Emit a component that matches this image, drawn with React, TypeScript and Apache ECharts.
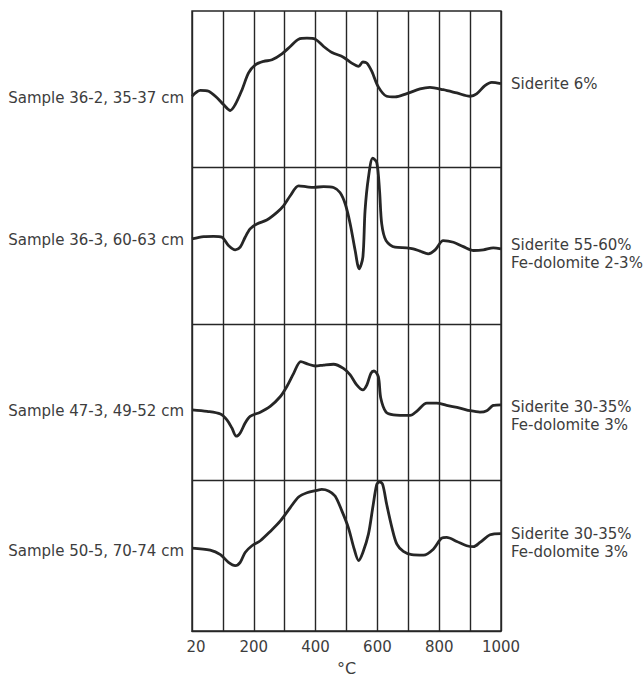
import React, { useEffect, useRef } from "react";
import * as echarts from "echarts";

// Sample names (top to bottom)
const sampleLabels = [
  "Sample 36-2, 35-37 cm",
  "Sample 36-3, 60-63 cm",
  "Sample 47-3, 49-52 cm",
  "Sample 50-5, 70-74 cm",
];

// Mineral notes (top to bottom)
const mineralLabels = [
  ["Siderite 6%"],
  ["Siderite 55-60%", "Fe-dolomite 2-3%"],
  ["Siderite 30-35%", "Fe-dolomite 3%"],
  ["Siderite 30-35%", "Fe-dolomite 3%"],
];

// X tick labels
const tickLabels: Record<number, string> = { 0: "20", 200: "200", 400: "400", 600: "600", 800: "800", 1000: "1000" };

// DTA curves: temperature (°C) and deflection (fraction of panel height above panel floor)
const temps362 = [0, 27, 54, 81, 102, 124, 140, 162, 183, 205, 232, 259, 291, 318, 345, 372, 399, 426, 453, 490, 517, 539, 553, 566, 582, 603, 630, 657, 695, 738, 770, 813, 857, 900, 921, 948, 970, 1000];
const vals362 = [0.455, 0.493, 0.487, 0.445, 0.402, 0.364, 0.402, 0.497, 0.604, 0.656, 0.678, 0.688, 0.726, 0.773, 0.82, 0.826, 0.82, 0.773, 0.735, 0.705, 0.667, 0.646, 0.674, 0.667, 0.614, 0.515, 0.455, 0.451, 0.472, 0.502, 0.512, 0.497, 0.476, 0.455, 0.47, 0.523, 0.544, 0.536];

const temps363 = [0, 38, 70, 97, 118, 140, 156, 172, 188, 210, 242, 275, 296, 318, 345, 372, 393, 426, 458, 479, 496, 512, 528, 541, 553, 560, 571, 585, 598, 607, 614, 628, 657, 695, 716, 738, 765, 787, 813, 846, 878, 911, 943, 975, 1000];
const vals363 = [0.543, 0.558, 0.56, 0.554, 0.501, 0.473, 0.49, 0.554, 0.607, 0.639, 0.664, 0.713, 0.755, 0.819, 0.882, 0.876, 0.872, 0.878, 0.872, 0.84, 0.766, 0.639, 0.469, 0.352, 0.427, 0.723, 0.936, 1.059, 1.031, 0.851, 0.639, 0.532, 0.49, 0.486, 0.48, 0.465, 0.448, 0.473, 0.532, 0.522, 0.494, 0.469, 0.473, 0.486, 0.48];

const temps473 = [0, 49, 92, 113, 129, 143, 156, 172, 188, 221, 253, 286, 307, 329, 352, 377, 399, 426, 458, 490, 512, 533, 553, 566, 579, 589, 603, 611, 628, 652, 706, 727, 760, 792, 824, 867, 900, 932, 954, 975, 1000];
const vals473 = [0.451, 0.441, 0.424, 0.387, 0.335, 0.282, 0.303, 0.366, 0.409, 0.436, 0.473, 0.536, 0.6, 0.684, 0.759, 0.742, 0.731, 0.737, 0.742, 0.716, 0.674, 0.61, 0.578, 0.61, 0.684, 0.699, 0.663, 0.525, 0.436, 0.419, 0.415, 0.441, 0.494, 0.494, 0.479, 0.462, 0.445, 0.436, 0.445, 0.479, 0.483];

const temps505 = [0, 59, 92, 118, 140, 156, 172, 194, 221, 253, 286, 318, 345, 372, 404, 420, 442, 463, 485, 506, 525, 539, 553, 571, 585, 598, 607, 617, 630, 647, 663, 684, 711, 749, 781, 808, 824, 857, 889, 911, 932, 965, 1000];
const vals505 = [0.567, 0.554, 0.525, 0.476, 0.455, 0.476, 0.539, 0.582, 0.614, 0.673, 0.741, 0.826, 0.894, 0.921, 0.936, 0.942, 0.932, 0.9, 0.805, 0.698, 0.56, 0.487, 0.539, 0.656, 0.826, 0.974, 0.991, 0.974, 0.847, 0.698, 0.592, 0.546, 0.525, 0.522, 0.56, 0.63, 0.635, 0.609, 0.582, 0.576, 0.603, 0.652, 0.66];

const curves = [
  { t: temps362, v: vals362 },
  { t: temps363, v: vals363 },
  { t: temps473, v: vals473 },
  { t: temps505, v: vals505 },
];

const INK = "#262626";
const TEXT = "#3d3d3d";
const FONT = "'DejaVu Sans', Verdana, sans-serif";
const FS = 15;

export default function App() {
  const ref = useRef<HTMLDivElement>(null);
  useEffect(() => {
    if (!ref.current) return;
    const chart = echarts.init(ref.current, null, { renderer: "svg" });

    const series: any[] = curves.map((c, i) => {
      const base = 3 - i;
      return {
        type: "line",
        data: c.t.map((t, j) => [t, base + c.v[j]]),
        showSymbol: false,
        smooth: 0.3,
        lineStyle: { color: INK, width: 2.8 },
        z: 3,
      };
    });
    series.push({
      type: "line",
      data: [],
      markLine: {
        silent: true,
        symbol: "none",
        label: { show: false },
        lineStyle: { color: INK, width: 1.4, type: "solid" },
        data: [{ yAxis: 1 }, { yAxis: 2 }, { yAxis: 3 }],
      },
      z: 2,
    });

    const leftY = [98, 240, 411, 551];
    const rightY = [84, 254, 416, 543];
    const graphics: any[] = [];
    sampleLabels.forEach((s, i) => {
      graphics.push({
        type: "text",
        x: 184,
        y: leftY[i],
        style: { text: s, font: `${FS}px ${FONT}`, fill: TEXT, align: "right", verticalAlign: "middle" },
      });
    });
    mineralLabels.forEach((lines, i) => {
      graphics.push({
        type: "text",
        x: 511,
        y: rightY[i],
        style: {
          text: lines.join("\n"),
          font: `${FS}px ${FONT}`,
          lineHeight: 17.6,
          fill: TEXT,
          align: "left",
          verticalAlign: "middle",
        },
      });
    });

    chart.setOption({
      animation: false,
      backgroundColor: "#ffffff",
      grid: { left: 192, right: 142, top: 11, bottom: 47, show: true, borderColor: INK, borderWidth: 1.4, backgroundColor: "transparent" },
      xAxis: {
        type: "value",
        min: 0,
        max: 1000,
        interval: 100,
        name: "°C",
        nameLocation: "middle",
        nameGap: 29,
        nameTextStyle: { fontSize: 16, color: TEXT, fontFamily: FONT },
        axisLine: { show: true, lineStyle: { color: INK, width: 1.4 } },
        axisTick: { show: false },
        axisLabel: {
          margin: 8,
          fontSize: FS,
          color: TEXT,
          fontFamily: FONT,
          showMinLabel: true,
          showMaxLabel: true,
          formatter: (v: number) => (v === 0 ? "{a|" + tickLabels[0] + "}" : tickLabels[v] ?? ""),
          rich: { a: { fontSize: FS, color: TEXT, fontFamily: FONT, padding: [0, 0, 0, 8] } },
        },
        splitLine: { show: true, lineStyle: { color: INK, width: 1.4 } },
      },
      yAxis: {
        type: "value",
        min: 0.037,
        max: 4,
        axisLine: { show: false },
        axisTick: { show: false },
        axisLabel: { show: false },
        splitLine: { show: false },
      },
      series,
      graphic: graphics,
    });
    return () => chart.dispose();
  }, []);
  return <div ref={ref} style={{ position: "absolute", left: 0, top: 0, width: 643, height: 681 }} />;
}
